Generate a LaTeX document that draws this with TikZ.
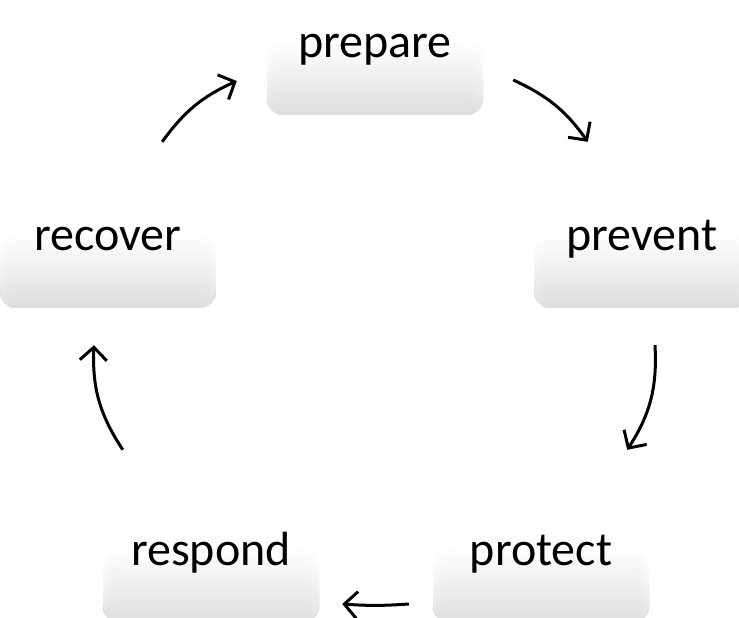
\documentclass[tikz,border=0pt]{standalone}
\usepackage{fontspec}
\setmainfont{Carlito}
\usepackage{tikz}
\usetikzlibrary{arrows.meta, positioning}

\begin{document}
\begin{tikzpicture}[x=1pt, y=1pt,
                        phase/.style={rounded corners=17pt, minimum width=216pt, minimum height=138pt,
                            inner sep=0pt, fill=white,
                            path picture={\foreach \k [evaluate=\k as \c using 13*(\k+0.5)/30] in {0,...,29}
                                \fill[black!\c] (path picture bounding box.south west)
                                    rectangle ([yshift=75pt-2.5pt*\k]path picture bounding box.south east);},
                            text height=34pt, text depth=10pt, font=\fontsize{48}{58}\selectfont},
                        cyc/.style={line width=3pt, -{Straight Barb[length=13pt, width=27pt]}}]
                        \useasboundingbox (0, 0) rectangle (739, 618);

                        \node[phase] (prepare) at (375, 572) {prepare};
                        \node[phase] (prevent) at (642, 379) {prevent};
                        \node[phase] (protect) at (541, 64) {protect};
                        \node[phase] (respond) at (211, 64) {respond};
                        \node[phase] (recover) at (108, 379) {recover};

                        \draw[cyc] ([shift={(-54, 28)}]recover.north east) to[bend left=15] ([shift={(-30, -35)}]prepare.west);
                        \draw[cyc] ([shift={(30, -34)}]prepare.east) to[bend left=15] ([shift={(54, 28)}]prevent.north west);
                        \draw[cyc] ([shift={(13, -37)}]prevent.south) to[bend left=18] ([shift={(-22, 35)}]protect.north east);
                        \draw[cyc] ([shift={(-24, -50)}]protect.west) to[bend left=4] ([shift={(23, -50)}]respond.east);
                        \draw[cyc] ([shift={(20, 35)}]respond.north west) to[bend left=18] ([shift={(-14, -37)}]recover.south);
                    \end{tikzpicture}
\end{document}
